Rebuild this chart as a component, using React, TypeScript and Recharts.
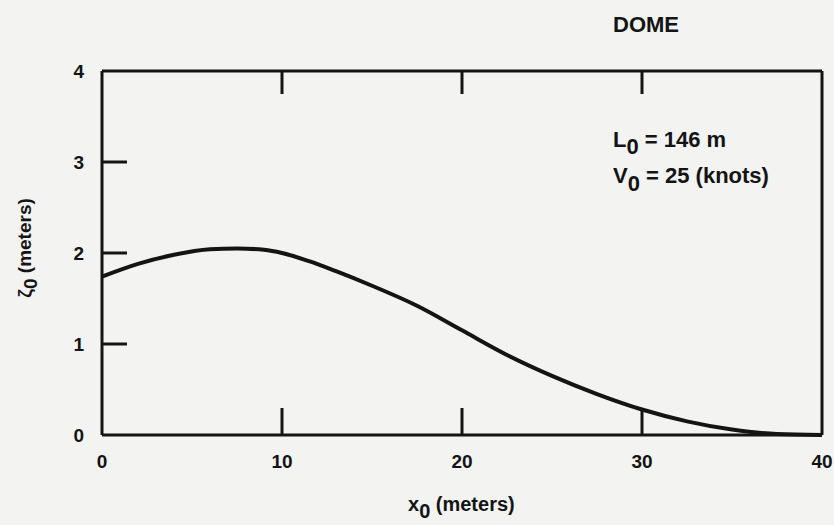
import { LineChart, Line, XAxis, YAxis } from "recharts";

// x0 (meters) and zeta0 (meters)
const xValues = [0, 2, 4, 6, 7.5, 9, 10, 11.5, 13, 15, 17.5, 20, 22.5, 25, 27.5, 30, 32.5, 35, 37.5, 40];
const zetaValues = [1.74, 1.88, 1.98, 2.04, 2.05, 2.035, 2.0, 1.91, 1.8, 1.64, 1.42, 1.15, 0.88, 0.65, 0.45, 0.28, 0.15, 0.06, 0.01, 0];

const xTicks = [0, 10, 20, 30, 40];
const yTicks = [0, 1, 2, 3, 4];
const innerXTicks = [10, 20, 30];
const innerYTicks = [1, 2, 3];

const data = xValues.map((x, i) => ({ x, zeta: zetaValues[i] }));

const INK = "#141414";
const FONT = "'Liberation Sans', Arial, sans-serif";

const BottomTick = (props: any) => {
  const { x, y, payload } = props;
  const inner = innerXTicks.includes(payload.value);
  return (
    <g>
      {inner && <line x1={x} y1={y} x2={x} y2={y - 27} stroke={INK} strokeWidth={3} />}
      <text x={x} y={y + 33} textAnchor="middle" fill={INK} fontSize={19} fontWeight="bold" fontFamily={FONT}>
        {payload.value}
      </text>
    </g>
  );
};

const TopTick = (props: any) => {
  const { x, y } = props;
  return <line x1={x} y1={y} x2={x} y2={y + 23} stroke={INK} strokeWidth={3} />;
};

const LeftTick = (props: any) => {
  const { x, y, payload } = props;
  const inner = innerYTicks.includes(payload.value);
  return (
    <g>
      {inner && <line x1={x} y1={y} x2={x + 25} y2={y} stroke={INK} strokeWidth={3} />}
      <text x={x - 18} y={y + 7} textAnchor="end" fill={INK} fontSize={19} fontWeight="bold" fontFamily={FONT}>
        {payload.value}
      </text>
    </g>
  );
};

const RightTick = (props: any) => {
  const { x, y } = props;
  return <line x1={x} y1={y} x2={x - 21} y2={y} stroke={INK} strokeWidth={3} />;
};

const axisLine = { stroke: INK, strokeWidth: 3 };

export default function App() {
  return (
    <div style={{ width: 834, height: 525, background: "#f3f3f1", position: "relative" }}>
      <style>{`body{margin:0}`}</style>
      <LineChart width={834} height={525} data={data} margin={{ top: 0, right: 0, bottom: 0, left: 0 }}>
        <XAxis
          dataKey="x"
          type="number"
          domain={[0, 40]}
          ticks={xTicks}
          interval={0}
          height={90}
          tickSize={0}
          tickMargin={0}
          axisLine={axisLine}
          tick={BottomTick}
        />
        <XAxis
          xAxisId="top"
          orientation="top"
          dataKey="x"
          type="number"
          domain={[0, 40]}
          ticks={innerXTicks}
          interval={0}
          height={71}
          tickSize={0}
          tickMargin={0}
          axisLine={axisLine}
          tick={TopTick}
        />
        <YAxis
          type="number"
          domain={[0, 4]}
          ticks={yTicks}
          interval={0}
          width={102}
          tickSize={0}
          tickMargin={0}
          axisLine={axisLine}
          tick={LeftTick}
        />
        <YAxis
          yAxisId="right"
          orientation="right"
          type="number"
          domain={[0, 4]}
          ticks={innerYTicks}
          interval={0}
          width={12}
          tickSize={0}
          tickMargin={0}
          axisLine={axisLine}
          tick={RightTick}
        />
        <Line
          type="monotone"
          dataKey="zeta"
          stroke={INK}
          strokeWidth={4}
          dot={false}
          activeDot={false}
          isAnimationActive={false}
        />
      </LineChart>

      <svg width={834} height={525} style={{ position: "absolute", left: 0, top: 0, pointerEvents: "none" }}>
        <g fill={INK} fontFamily={FONT} fontWeight="bold">
          <text x={613} y={32} fontSize={22}>DOME</text>
          <text x={613} y={147} fontSize={22}>
            L<tspan dy={7}>0</tspan><tspan dy={-7}> = 146 m</tspan>
          </text>
          <text x={613} y={183} fontSize={22}>
            V<tspan dy={8}>0</tspan><tspan dy={-8}> = 25 (knots)</tspan>
          </text>
          <text x={408} y={511} fontSize={20}>
            x<tspan dy={7}>0</tspan><tspan dy={-7}> (meters)</tspan>
          </text>
          <text x={31} y={248} fontSize={19} textAnchor="middle" transform="rotate(-90 31 248)">
            ζ<tspan dy={6}>0</tspan><tspan dy={-6}> (meters)</tspan>
          </text>
        </g>
      </svg>
    </div>
  );
}
